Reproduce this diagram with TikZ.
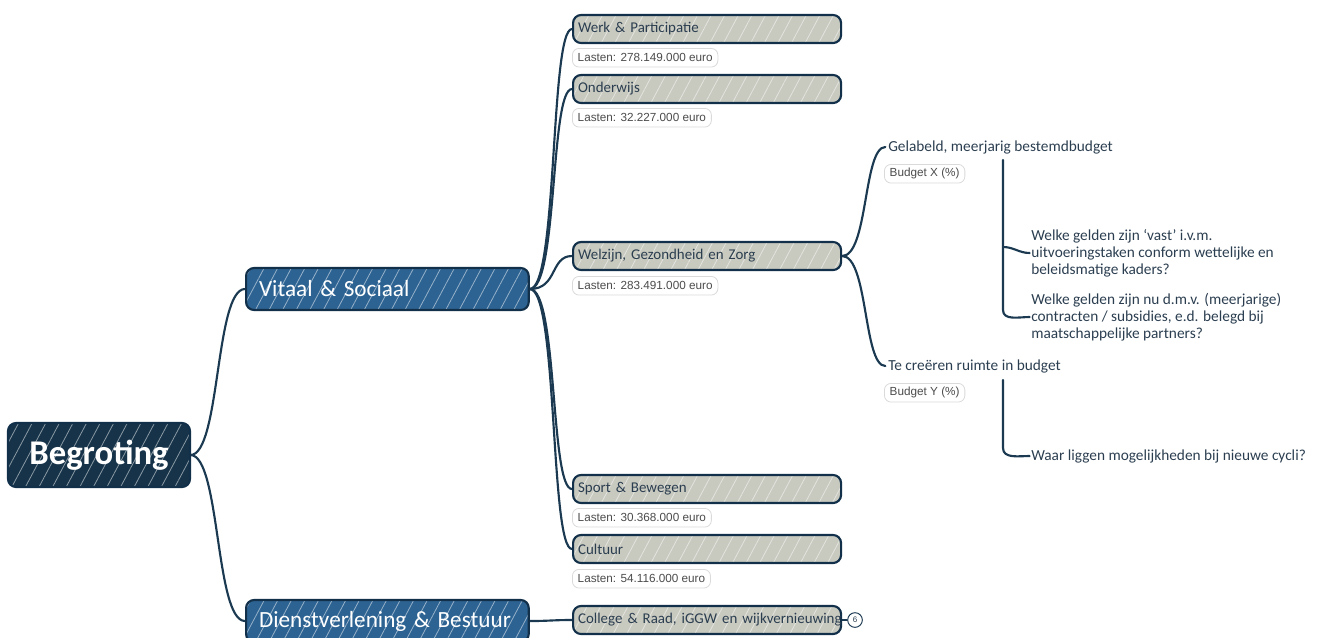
\documentclass[tikz,border=0pt]{standalone}
\usepackage{fontspec}
\setmainfont{Carlito}
\newfontfamily\arialf{Liberation Sans}
\usetikzlibrary{patterns.meta,backgrounds}
\definecolor{navy}{HTML}{12304A}
\definecolor{rootfill}{HTML}{163349}
\definecolor{mainfill}{HTML}{2D6392}
\definecolor{subfill}{HTML}{C8C9BF}
\definecolor{txt}{HTML}{2B3E50}
\definecolor{lbl}{HTML}{DADADA}
\definecolor{conn}{HTML}{1B3A52}
\tikzset{
  sketchbox/.style={draw=navy, line width=1.6pt, rounded corners=6pt,
    preaction={fill=#1},
    pattern={Lines[angle=62,distance=9pt,line width=0.6pt]},
    pattern color=white!50!#1},
  rootbox/.style={sketchbox=rootfill, minimum width=136.5pt, minimum height=48pt,
    text=white, font=\bfseries\fontsize{26}{30}\selectfont, inner sep=0pt},
  mainbox/.style={sketchbox=mainfill, minimum height=31.5pt, inner xsep=9.75pt,
    text width=192.5pt, align=left, text=white, font=\fontsize{17.4}{21}\selectfont},
  subbox/.style={sketchbox=subfill, minimum height=21pt, inner xsep=3.75pt,
    text width=193.5pt, align=left, text=txt, font=\fontsize{11.2}{13}\selectfont},
  lasten/.style={draw=lbl, line width=0.6pt, rounded corners=5pt, fill=white,
    font=\arialf\fontsize{8.8}{10}\selectfont, text=black!70, inner xsep=4pt,
    inner ysep=0pt, minimum height=14pt},
  leaf/.style={inner sep=0pt, text=txt, align=left, font=\fontsize{11.5}{12.75}\selectfont},
  conn/.style={draw=conn, line width=1.6pt, line cap=round},
  cnt/.style={circle, draw=navy, line width=0.7pt, fill=white, minimum size=11pt,
    inner sep=0pt, text=txt, font=\arialf\fontsize{6}{7}\selectfont},
}
\begin{document}
\begin{tikzpicture}[x=0.75pt,y=-0.75pt]
\useasboundingbox (0,0) rectangle (1317,637);
\node[rootbox] (root) at (99,455) {Begroting};
\node[mainbox, anchor=west] (vs) at (245,289) {Vitaal \& Sociaal};
\node[mainbox, anchor=west] (ds) at (245,621) {Dienstverlening \& Bestuur};

\node[subbox, anchor=west] (wp) at (572,29) {Werk \& Participatie};
\node[subbox, anchor=west] (ow) at (572,89) {Onderwijs};
\node[subbox, anchor=west] (wz) at (572,256) {Welzijn, Gezondheid en Zorg};
\node[subbox, anchor=west] (sb) at (572,489) {Sport \& Bewegen};
\node[subbox, anchor=west] (cu) at (572,549) {Cultuur};
\node[subbox, anchor=west] (cr) at (572,620) {\mbox{College \& Raad, iGGW en wijkvernieuwing}};
\node[cnt] (n6) at (855,620) {6};

\node[lasten, anchor=north west] (l1) at (572,48) {Lasten: 278.149.000 euro};
\node[lasten, anchor=north west] (l2) at (572,108) {Lasten: 32.227.000 euro};
\node[lasten, anchor=north west] (l3) at (572,276) {Lasten: 283.491.000 euro};
\node[lasten, anchor=north west] (l4) at (572,508) {Lasten: 30.368.000 euro};
\node[lasten, anchor=north west] (l5) at (572,569) {Lasten: 54.116.000 euro};

\node[leaf, anchor=west] (gel) at (888,147) {Gelabeld, meerjarig bestemdbudget};
\node[lasten, anchor=north west] (bx) at (884,164) {Budget X (\%)};
\node[leaf, anchor=west] (w1) at (1031,253) {Welke gelden zijn `vast' i.v.m.\\uitvoeringstaken conform wettelijke en\\beleidsmatige kaders?};
\node[leaf, anchor=west] (w2) at (1031,317) {Welke gelden zijn nu d.m.v. (meerjarige)\\contracten / subsidies, e.d. belegd bij\\maatschappelijke partners?};
\node[leaf, anchor=west] (te) at (888,366) {Te creëren ruimte in budget};
\node[lasten, anchor=north west] (by) at (884,383) {Budget Y (\%)};
\node[leaf, anchor=west] (wa) at (1031,456) {Waar liggen mogelijkheden bij nieuwe cycli?};

\coordinate (gx) at (1003,160);
\coordinate (gm) at (1003,247);
\coordinate (tx) at (1003,380);

\begin{scope}[on background layer]
\draw[conn] (root.east) .. controls +(30,0) and +(-30,0) .. (vs.west);
\draw[conn] (root.east) .. controls +(30,0) and +(-30,0) .. (ds.west);
\foreach \c in {wp,ow,wz,sb,cu}
  \draw[conn] (vs.east) .. controls +(28,0) and +(-22,0) .. (\c.west);
\draw[conn] (ds.east) .. controls +(20,0) and +(-20,0) .. (cr.west);
\draw[conn, line width=0.8pt] (cr.east) -- (n6.west);
\draw[conn] (wz.east) .. controls +(26,0) and +(-22,0) .. ([xshift=-2pt]gel.west);
\draw[conn] (wz.east) .. controls +(26,0) and +(-22,0) .. ([xshift=-2pt]te.west);
\draw[conn] (gx) -- ++(0,150) to[out=-90,in=180] ([xshift=-1pt]w2.west);
\draw[conn] (gm) to[out=0,in=180] ([xshift=-1pt]w1.west);
\draw[conn] (tx) -- ++(0,68) to[out=-90,in=180] ([xshift=-1pt]wa.west);
\end{scope}
\end{tikzpicture}
\end{document}
